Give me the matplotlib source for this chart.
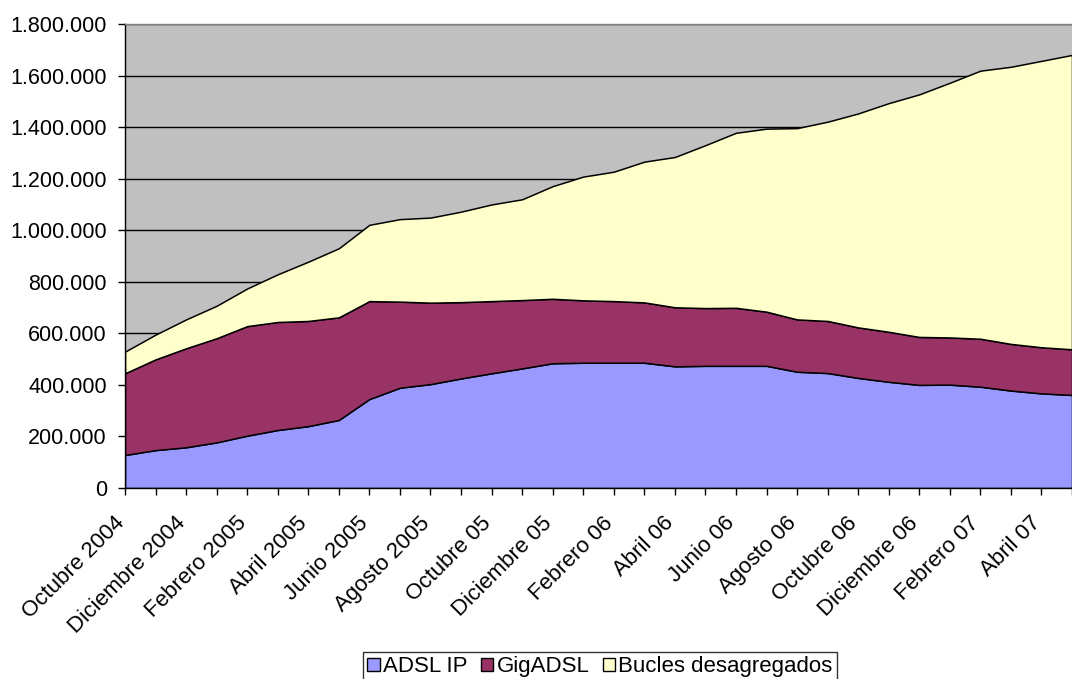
import matplotlib
matplotlib.use("Agg")
import matplotlib.pyplot as plt
from matplotlib.patches import Patch
from matplotlib.ticker import FuncFormatter, MultipleLocator
from matplotlib.transforms import ScaledTranslation
import numpy as np

plt.rcParams['font.family'] = ['Liberation Sans', 'DejaVu Sans']

# Monthly categories, October 2004 to May 2007
months = [
    "Octubre 2004", "Noviembre 2004", "Diciembre 2004", "Enero 2005",
    "Febrero 2005", "Marzo 2005", "Abril 2005", "Mayo 2005",
    "Junio 2005", "Julio 2005", "Agosto 2005", "Septiembre 2005",
    "Octubre 05", "Noviembre 05", "Diciembre 05", "Enero 06",
    "Febrero 06", "Marzo 06", "Abril 06", "Mayo 06",
    "Junio 06", "Julio 06", "Agosto 06", "Septiembre 06",
    "Octubre 06", "Noviembre 06", "Diciembre 06", "Enero 07",
    "Febrero 07", "Marzo 07", "Abril 07", "Mayo 07",
]

adsl_ip = [128000, 147000, 158000, 177000, 203000, 225000, 240000, 264000,
           345000, 389000, 403000, 425000, 445000, 464000, 484000, 486000,
           486000, 486000, 472000, 474000, 474000, 474000, 451000, 446000,
           427000, 412000, 400000, 401000, 393000, 378000, 367000, 361000]

gigadsl = [317000, 352000, 384000, 404000, 425000, 419000, 408000, 398000,
           380000, 334000, 316000, 296000, 280000, 265000, 250000, 242000,
           239000, 234000, 229000, 224000, 225000, 210000, 203000, 202000,
           196000, 194000, 186000, 183000, 186000, 181000, 179000, 177000]

bucles = [84000, 96000, 112000, 126000, 146000, 185000, 230000, 268000,
          296000, 320000, 330000, 351000, 375000, 391000, 437000, 480000,
          502000, 546000, 583000, 632000, 679000, 710000, 742000, 773000,
          830000, 887000, 941000, 988000, 1040000, 1075000, 1111000, 1142000]

series_names = ["ADSL IP", "GigADSL", "Bucles desagregados"]
series_colors = ["#9999FF", "#993366", "#FFFFCC"]

W, H = 1072, 679
fig = plt.figure(figsize=(W / 100, H / 100), dpi=100)
ax = fig.add_axes([125 / W, 191 / H, 947 / W, 464 / H])
ax.set_facecolor("#C0C0C0")

x = np.arange(len(months))
ax.stackplot(x, adsl_ip, gigadsl, bucles, colors=series_colors,
             edgecolor="black", linewidth=1.1)

ax.set_xlim(0, 30.72)
ax.set_ylim(0, 1800000)

ax.yaxis.set_major_locator(MultipleLocator(200000))
ax.yaxis.set_major_formatter(FuncFormatter(lambda v, p: f"{int(v):,}".replace(",", ".")))
ax.set_axisbelow(True)
ax.grid(axis="y", color="black", linewidth=1.0)

ax.set_xticks(x)
ax.set_xticklabels([m if i % 2 == 0 else "" for i, m in enumerate(months)],
                   rotation=45, ha="right", va="center", rotation_mode="anchor",
                   fontsize=16)

ax.tick_params(axis="both", direction="out", length=5, width=1.0, colors="black")
ax.tick_params(axis="y", pad=8, labelsize=15.5)
ax.tick_params(axis="x", pad=18)

# nudge the slanted month labels slightly left of their ticks
shift = ScaledTranslation(-4 / 100, 0, fig.dpi_scale_trans)
for lbl in ax.get_xticklabels():
    lbl.set_transform(lbl.get_transform() + shift)

for side in ("left", "bottom"):
    ax.spines[side].set_color("black")
    ax.spines[side].set_linewidth(1.0)
ax.spines["top"].set_color("#808080")
ax.spines["top"].set_linewidth(1.0)
ax.spines["right"].set_visible(False)

handles = [Patch(facecolor=c, edgecolor="black", linewidth=1.0) for c in series_colors]
leg = fig.legend(handles, series_names, loc="upper left",
                 bbox_to_anchor=(363 / W, 1 - 652 / H), ncol=3,
                 fontsize=16, frameon=True, fancybox=False,
                 handlelength=0.55, handleheight=0.55, handletextpad=0.15,
                 columnspacing=0.6, borderpad=0.2, borderaxespad=0)
leg.get_frame().set_edgecolor("black")
leg.get_frame().set_linewidth(1.0)

fig.savefig("out.png", dpi=100)
